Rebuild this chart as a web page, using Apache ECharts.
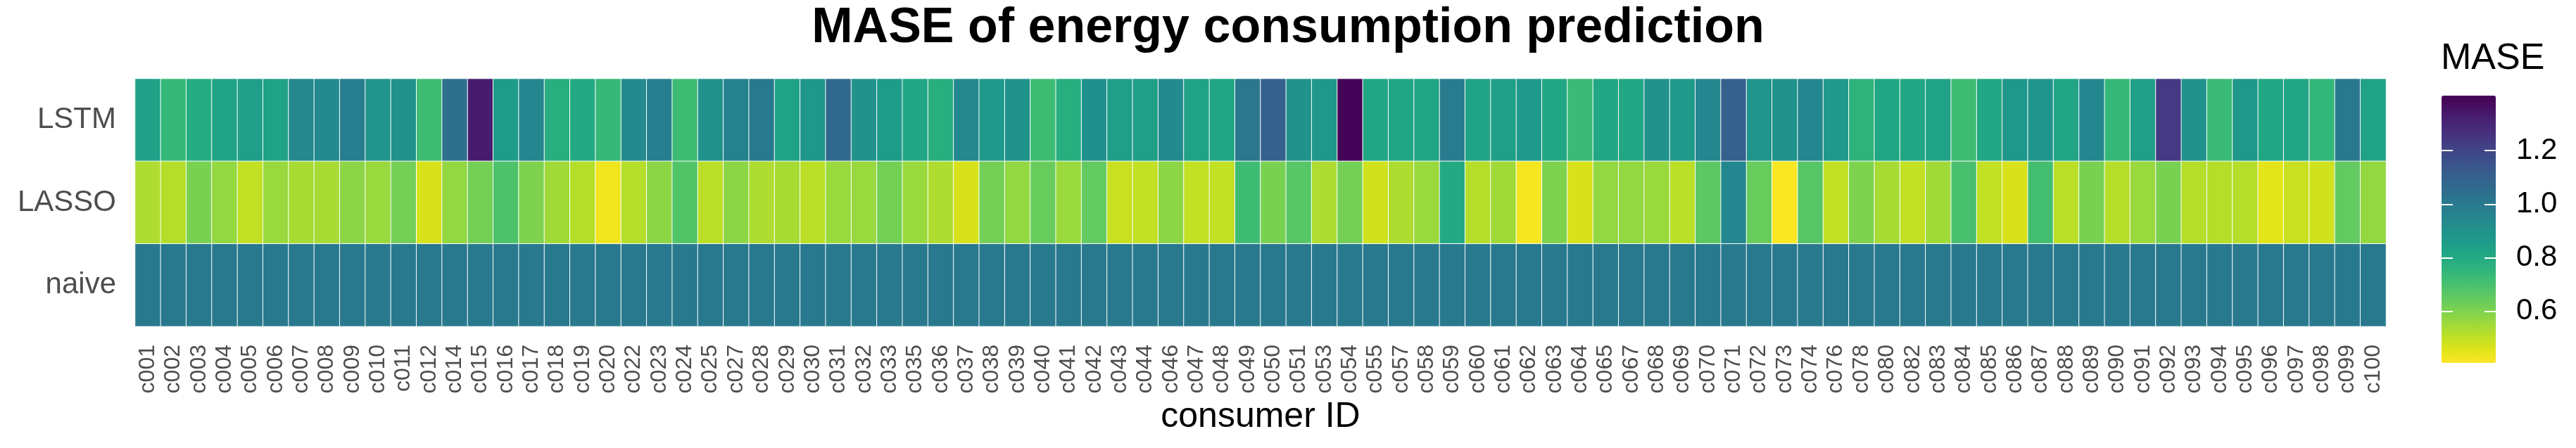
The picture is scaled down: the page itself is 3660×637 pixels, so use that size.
<!DOCTYPE html>
<html>
<head>
<meta charset="utf-8">
<title>MASE of energy consumption prediction</title>
<script src="https://cdn.jsdelivr.net/npm/echarts@6/dist/echarts.min.js"></script>
<style>
  html, body { margin: 0; padding: 0; background: #fff; }
  #chart { width: 3660px; height: 637px; }
</style>
</head>
<body>
<div id="chart"></div>
<script>
// consumers shown on the x axis (some ids are missing in the source)
var consumers = ['c001','c002','c003','c004','c005','c006','c007','c008','c009','c010',
  'c011','c012','c014','c015','c016','c017','c018','c019','c020','c022',
  'c023','c024','c025','c027','c028','c029','c030','c031','c032','c033',
  'c035','c036','c037','c038','c039','c040','c041','c042','c043','c044',
  'c046','c047','c048','c049','c050','c051','c053','c054','c055','c057',
  'c058','c059','c060','c061','c062','c063','c064','c065','c067','c068',
  'c069','c070','c071','c072','c073','c074','c076','c078','c080','c082',
  'c083','c084','c085','c086','c087','c088','c089','c090','c091','c092',
  'c093','c094','c095','c096','c097','c098','c099','c100'];

var models = ['LSTM', 'LASSO', 'naive'];

var lstm = [0.84,0.74,0.79,0.83,0.85,0.83,0.94,0.93,0.98,0.89,
  0.90,0.72,1.04,1.33,0.86,0.95,0.78,0.80,0.74,0.93,
  0.98,0.72,0.90,0.97,1.00,0.83,0.88,1.07,0.90,0.86,
  0.82,0.78,0.94,0.87,0.90,0.72,0.78,0.91,0.85,0.85,
  0.93,0.83,0.82,1.01,1.10,0.90,0.88,1.40,0.82,0.82,
  0.82,0.99,0.83,0.85,0.87,0.81,0.73,0.81,0.81,0.90,
  0.87,0.95,1.10,0.89,0.90,0.95,0.87,0.76,0.82,0.81,
  0.83,0.72,0.81,0.88,0.89,0.82,0.95,0.74,0.85,1.24,
  0.90,0.73,0.88,0.81,0.82,0.75,1.00,0.83];

var lasso = [0.53,0.52,0.61,0.57,0.50,0.56,0.54,0.54,0.58,0.56,
  0.62,0.47,0.57,0.62,0.69,0.60,0.55,0.52,0.43,0.52,
  0.58,0.68,0.51,0.58,0.53,0.54,0.51,0.56,0.56,0.62,
  0.56,0.53,0.47,0.62,0.57,0.64,0.56,0.65,0.49,0.50,
  0.58,0.50,0.50,0.72,0.61,0.67,0.53,0.62,0.48,0.53,
  0.56,0.80,0.52,0.55,0.42,0.60,0.47,0.57,0.57,0.56,
  0.51,0.66,0.95,0.64,0.41,0.67,0.50,0.60,0.54,0.50,
  0.55,0.70,0.50,0.47,0.71,0.51,0.61,0.52,0.56,0.61,
  0.52,0.52,0.52,0.45,0.49,0.48,0.65,0.57];

var naive = [1,1,1,1,1,1,1,1,1,1,
  1,1,1,1,1,1,1,1,1,1,
  1,1,1,1,1,1,1,1,1,1,
  1,1,1,1,1,1,1,1,1,1,
  1,1,1,1,1,1,1,1,1,1,
  1,1,1,1,1,1,1,1,1,1,
  1,1,1,1,1,1,1,1,1,1,
  1,1,1,1,1,1,1,1,1,1,
  1,1,1,1,1,1,1,1];

var scaleMin = 0.408;
var scaleMax = 1.405;
var colorTicks = [0.6, 0.8, 1.0, 1.2];

// viridis, low value = yellow
var viridis = ['#fde725','#dfe318','#bddf26','#9bd93c','#7ad151','#5ec962','#44bf70',
  '#2fb47c','#22a884','#1e9c89','#21918c','#25848e','#2a788e','#2f6c8e','#355f8d',
  '#3b528b','#414487','#463480','#482475','#471365','#440154'];

var FONT = 'Liberation Sans, Arial, sans-serif';

var cells = [];
var rows = [lstm, lasso, naive];
rows.forEach(function (vals, r) {
    for (var i = 0; i < consumers.length; i++) {
        cells.push([i, r, vals[i]]);
    }
});

var option = {
    backgroundColor: '#fff',
    animation: false,
    title: [{
        text: 'MASE of energy consumption prediction',
        left: 'center',
        top: 6,
        padding: 0,
        textStyle: { fontFamily: FONT, fontSize: 70, fontWeight: 'bold', color: '#000' }
    }, {
        text: 'MASE',
        left: 3468,
        top: 58,
        padding: 0,
        textStyle: { fontFamily: FONT, fontSize: 52, fontWeight: 'normal', color: '#000' }
    }],
    grid: [{
        left: 192, top: 112, width: 3198, height: 352
    }, {
        left: 3469, top: 136, width: 77, height: 380
    }],
    xAxis: [{
        type: 'category',
        data: consumers,
        gridIndex: 0,
        axisLine: { show: false },
        axisTick: { show: false },
        splitLine: { show: false },
        axisLabel: {
            rotate: 90, interval: 0, margin: 26,
            fontFamily: FONT, fontSize: 32, color: '#4d4d4d'
        },
        name: 'consumer ID',
        nameLocation: 'middle',
        nameGap: 104,
        nameTextStyle: { fontFamily: FONT, fontSize: 50, color: '#000' }
    }, {
        type: 'value', gridIndex: 1, show: false, min: 0, max: 1
    }],
    yAxis: [{
        type: 'category',
        data: models,
        inverse: true,
        gridIndex: 0,
        axisLine: { show: false },
        axisTick: { show: false },
        splitLine: { show: false },
        axisLabel: { margin: 27, fontFamily: FONT, fontSize: 42, color: '#4d4d4d' }
    }, {
        // colourbar labels; the white tick marks on both edges come from a dashed split line
        type: 'value', gridIndex: 1, position: 'right',
        min: scaleMin, max: scaleMax, zlevel: 1,
        axisLine: { show: false },
        axisTick: { show: false, customValues: colorTicks },
        splitLine: { show: true, lineStyle: { color: '#fff', width: 2, type: [16, 45, 16] } },
        axisLabel: { customValues: colorTicks, margin: 29, fontFamily: FONT, fontSize: 42, color: '#000',
            formatter: function (v) { return Number(v).toFixed(1); } }
    }],
    visualMap: {
        type: 'continuous',
        min: scaleMin,
        max: scaleMax,
        seriesIndex: 0,
        orient: 'vertical',
        left: 3469,
        top: 136,
        padding: 0,
        itemWidth: 77,
        itemHeight: 380,
        text: null,
        calculable: false,
        inRange: { color: viridis }
    },
    series: [{
        type: 'heatmap',
        xAxisIndex: 0,
        yAxisIndex: 0,
        data: cells,
        itemStyle: { borderColor: '#fff', borderWidth: 1 },
        emphasis: { disabled: true }
    }]
};

var myChart = echarts.init(document.getElementById('chart'));
myChart.setOption(option);
</script>
</body>
</html>
